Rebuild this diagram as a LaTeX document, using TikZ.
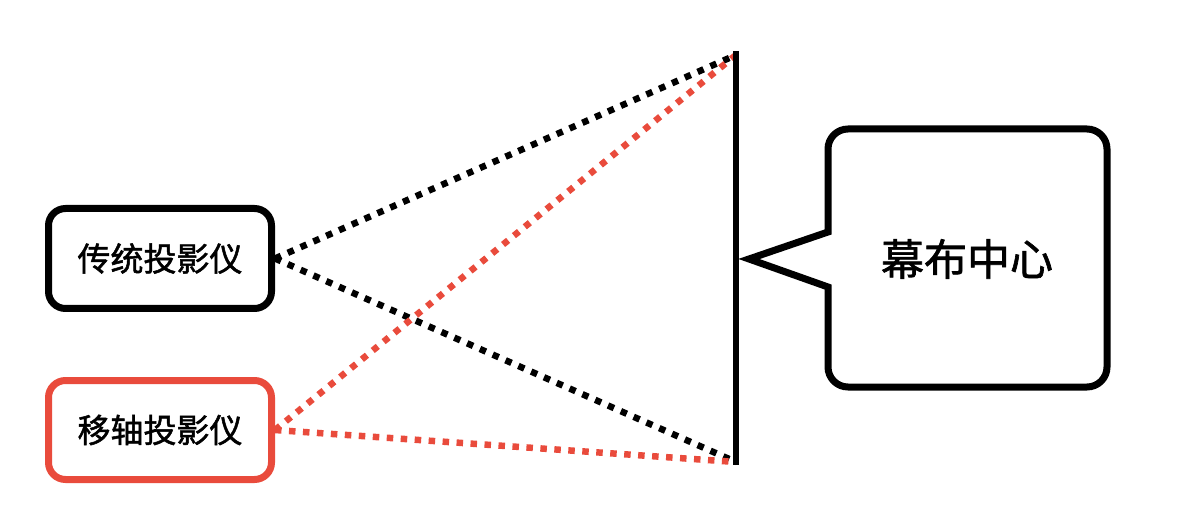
\documentclass[tikz,border=0pt]{standalone}
\usepackage{fontspec}
\newfontfamily\cjk[FakeBold=1.5]{Noto Sans CJK SC}
\definecolor{projred}{RGB}{233,75,60}
\begin{document}
\begin{tikzpicture}[x=1pt,y=1pt,
  projbox/.style={draw, line width=7pt, rounded corners=17pt, minimum width=223pt, inner sep=0pt, font=\cjk\fontsize{33}{38}\selectfont},
  ray/.style={line width=6.5pt, dash pattern=on 6.5pt off 7.5pt},
  thick line/.style={line width=6.5pt}]
\useasboundingbox (0,0) rectangle (1178,-521);
\node[projbox, minimum height=100pt] (trad) at (160,-258.5) {传统投影仪};
\node[projbox, draw=projred, minimum height=99pt] (shift) at (160,-430) {移轴投影仪};
\coordinate (top) at (736,-55);
\coordinate (bot) at (736,-462);
\coordinate (stop) at (736,-51);
\coordinate (sbot) at (736,-465);
\draw[ray] (trad.east) -- (top);
\draw[ray] (trad.east) -- (bot);
\draw[ray, projred] (shift.east) -- (top);
\draw[ray, projred] (shift.east) -- (bot);
\draw[thick line] (stop) -- (sbot);
\draw[line width=7pt, line join=miter] (828,-232) -- (828,-149) arc(180:90:20) -- (1087,-129) arc(90:0:20) -- (1107,-367) arc(0:-90:20) -- (848,-387) arc(270:180:20) -- (828,-287) -- (749,-259) -- cycle;
\node[font=\cjk\fontsize{43}{50}\selectfont, inner sep=0pt] (center) at (967,-259) {幕布中心};
\end{tikzpicture}
\end{document}
